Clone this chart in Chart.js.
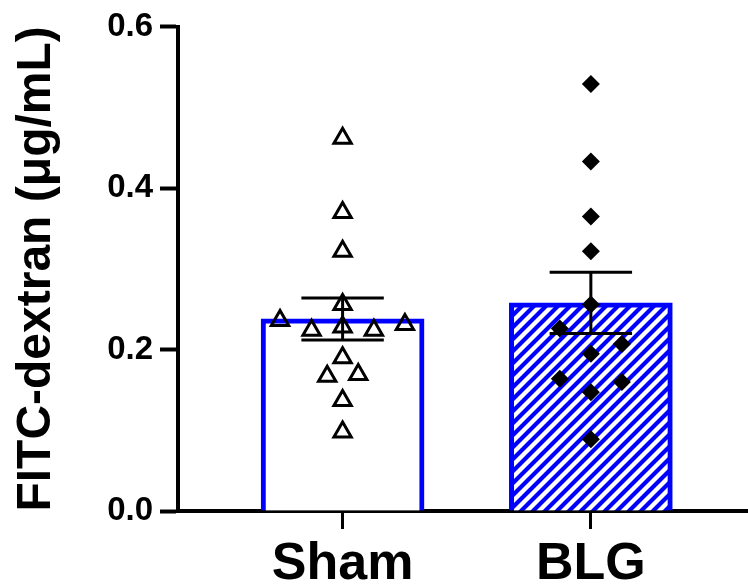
<!DOCTYPE html>
<html>
<head>
<meta charset="utf-8">
<script src="https://cdn.jsdelivr.net/npm/chart.js@4"></script>
<style>
  body { margin: 0; background: #fff; }
  #wrap { width: 748px; height: 588px; position: relative; }
</style>
</head>
<body>
<div id="wrap"><canvas id="myChart"></canvas></div>
<script>
const categories = ['Sham', 'BLG'];
const yTicks = [0, 0.2, 0.4, 0.6];
const means = [0.238, 0.258];
const sems = [0.026, 0.038];

// individual animals, with small horizontal spread as in the original
const shamValues = [0.462, 0.370, 0.322, 0.256, 0.236, 0.231, 0.224, 0.228, 0.224, 0.190, 0.167, 0.169, 0.137, 0.098];
const shamJitter = [0, 0, 0, 0, -0.252, 0.251, -0.125, 0, 0.126, 0, -0.062, 0.063, 0, 0];
const blgValues = [0.529, 0.433, 0.365, 0.322, 0.256, 0.226, 0.207, 0.195, 0.164, 0.160, 0.147, 0.089];
const blgJitter = [0, 0, 0, 0, 0, -0.125, 0.125, 0, -0.125, 0.125, 0, 0];

const BLUE = '#0000ff';

// hatch pattern for BLG bar
function makeHatch() {
    const p = 12;
    const c = document.createElement('canvas');
    c.width = p; c.height = p;
    const g = c.getContext('2d');
    g.fillStyle = '#fff';
    g.fillRect(0, 0, p, p);
    g.strokeStyle = BLUE;
    g.lineWidth = 4.2;
    g.beginPath();
    g.moveTo(0, p); g.lineTo(p, 0);
    g.moveTo(-p / 2, p / 2); g.lineTo(p / 2, -p / 2);
    g.moveTo(p / 2, p * 1.5); g.lineTo(p * 1.5, p / 2);
    g.stroke();
    return g.createPattern(c, 'repeat');
}

function errorBar(i) {
    const c = 0.166;
    const hi = means[i] + sems[i], lo = means[i] - sems[i];
    return [
        {x: i - c, y: hi}, {x: i + c, y: hi}, {x: i, y: null},
        {x: i, y: hi}, {x: i, y: lo}, {x: i, y: null},
        {x: i - c, y: lo}, {x: i + c, y: lo}
    ];
}

const ctx = document.getElementById('myChart').getContext('2d');
const font = 'Liberation Sans, Arial, sans-serif';

const myChart = new Chart(ctx, {
    type: 'bar',
    data: {
        datasets: [
            {
                type: 'bar',
                data: means.map((m, i) => ({x: i, y: m})),
                backgroundColor: ['#ffffff', makeHatch()],
                borderColor: BLUE,
                borderWidth: 5,
                borderSkipped: 'start',
                barThickness: 163,
                order: 3
            },
            {
                type: 'line',
                data: errorBar(0),
                borderColor: '#000',
                borderWidth: 3,
                pointRadius: 0,
                spanGaps: false,
                order: 2
            },
            {
                type: 'line',
                data: errorBar(1),
                borderColor: '#000',
                borderWidth: 3,
                pointRadius: 0,
                spanGaps: false,
                order: 2
            },
            {
                type: 'scatter',
                data: shamValues.map((v, i) => ({x: 0 + shamJitter[i], y: v})),
                pointStyle: 'triangle',
                pointRadius: 10,
                borderWidth: 3,
                borderColor: '#000',
                backgroundColor: 'rgba(255,255,255,0)',
                order: 1
            },
            {
                type: 'scatter',
                data: blgValues.map((v, i) => ({x: 1 + blgJitter[i], y: v})),
                pointStyle: 'rectRot',
                pointRadius: 9,
                borderWidth: 0,
                backgroundColor: '#000',
                order: 1
            }
        ]
    },
    options: {
        responsive: true,
        maintainAspectRatio: false,
        animation: false,
        layout: { autoPadding: false, padding: { top: 25, right: 0, left: 0, bottom: 0 } },
        scales: {
            x: {
                type: 'linear',
                offset: false,
                min: -0.663,
                max: 1.633,
                afterBuildTicks: s => { s.ticks = categories.map((c, i) => ({value: i})); },
                afterFit: s => { s.height = 77; s.paddingLeft = 0; s.paddingRight = 0; },
                ticks: {
                    callback: v => categories[v],
                    color: '#000',
                    font: { family: font, size: 52, weight: 'bold' },
                    padding: 4,
                    maxRotation: 0
                },
                grid: { display: true, offset: false, drawOnChartArea: false, tickLength: 18, tickWidth: 3, tickColor: '#000' },
                border: { display: true, width: 4, color: '#000' }
            },
            y: {
                min: 0,
                max: 0.6,
                afterBuildTicks: s => { s.ticks = yTicks.map(v => ({value: v})); },
                afterFit: s => { s.width = 178; },
                ticks: {
                    callback: v => v.toFixed(1),
                    color: '#000',
                    font: { family: font, size: 33, weight: 'bold' },
                    padding: 7
                },
                grid: { display: true, drawOnChartArea: false, tickLength: 18, tickWidth: 4, tickColor: '#000' },
                border: { display: true, width: 4, color: '#000' },
                title: {
                    display: true,
                    text: 'FITC-dextran (μg/mL)',
                    color: '#000',
                    font: { family: font, size: 48, weight: 'bold' },
                    padding: { top: 8, bottom: 0 }
                }
            }
        },
        plugins: {
            legend: { display: false },
            tooltip: { enabled: false }
        }
    }
});
</script>
</body>
</html>
